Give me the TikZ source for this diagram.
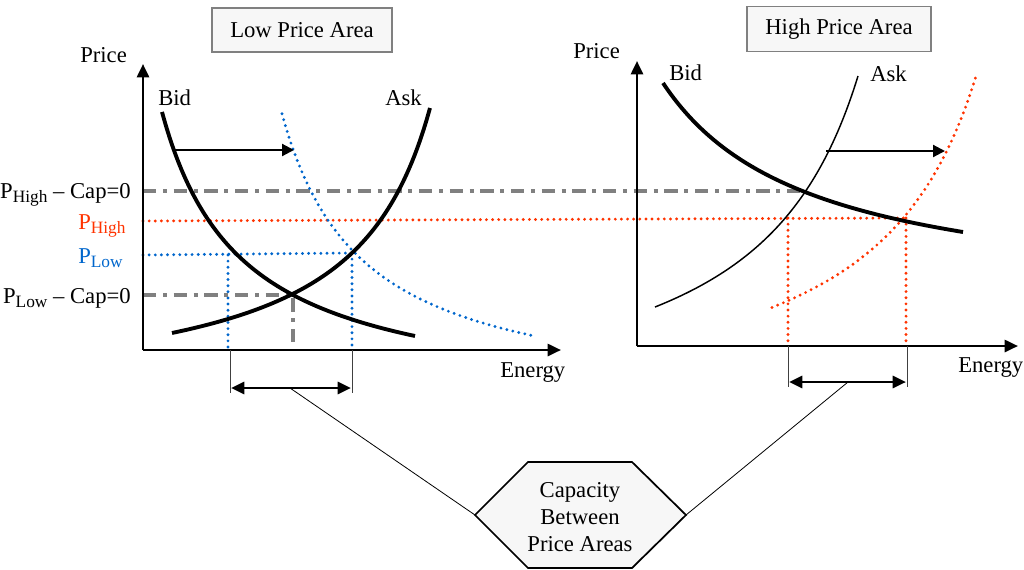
\documentclass[tikz,border=0pt]{standalone}
\usepackage{fontspec}
\setmainfont{Liberation Serif}
\usetikzlibrary{arrows.meta}
\definecolor{pred}{HTML}{FF3300}
\definecolor{pblue}{HTML}{0066CC}
\definecolor{dgray}{HTML}{808080}
\definecolor{boxfill}{HTML}{F7F7F7}
\newcommand{\sbs}[1]{\raisebox{-0.45ex}{\fontsize{13}{13}\selectfont #1}}
\tikzset{
 axisline/.style={line width=2pt,-{Triangle[length=10pt,width=9pt]}},
 curvethick/.style={line width=2.9pt},
 curvethin/.style={line width=1.1pt},
 reddots/.style={pred,line width=2.4pt,line cap=round,dash pattern=on 0pt off 4.6pt},
 bluedots/.style={pblue,line width=2.4pt,line cap=round,dash pattern=on 0pt off 4.6pt},
 dashdot/.style={dgray,line width=2.4pt,dash pattern=on 10pt off 5pt on 3pt off 5pt},
 shiftarrow/.style={line width=1.6pt,-{Triangle[length=9pt,width=9pt]}},
 caparrow/.style={line width=2.2pt,{Triangle[length=10pt,width=9pt]}-{Triangle[length=10pt,width=9pt]}},
 guide/.style={line width=0.7pt,black!75},
 conn/.style={line width=0.6pt},
 titlebox/.style={draw=dgray,line width=1.2pt,fill=boxfill,minimum width=135pt,minimum height=33pt,inner sep=0pt},
 lbl/.style={inner sep=0pt},
}
\begin{document}
\begin{tikzpicture}[x=0.75pt,y=-0.75pt,font=\fontsize{17}{20.25}\selectfont]
\useasboundingbox (0,0) rectangle (1024,569);

% title boxes
\node[titlebox] (low) at (302,30) {Low Price Area};
\node[titlebox,minimum width=138pt,minimum height=34pt] (high) at (839,29) {High Price Area};

% ---------- left chart ----------
\draw[dashdot] (143,191) -- (800,191);
\draw[reddots] (143,221) -- (905,218);
\draw[bluedots] (143,255) -- (352,253);
\draw[bluedots] (228,255) -- (228,350);
\draw[bluedots] (352,253) -- (352,350);
\draw[dashdot] (143,295) -- (293,295) -- (293,350);

% shifted bid (blue dotted)
\draw[bluedots] plot[domain=282:535,samples=80,smooth] (\x,{407-236.62/((\x-201.3)/100)});

% bid and ask
\draw[curvethick] plot[domain=162:415,samples=80,smooth] (\x,{407-236.62/((\x-81.8)/100)});
\draw[curvethick] plot[domain=172:430,samples=80,smooth] (\x,{403.7-239.81/((511.1-\x)/100)});

% shift arrow
\coordinate (la1) at (175,150);
\coordinate (la2) at (294,150);
\draw[shiftarrow] (la1) -- (la2);

% axes
\coordinate (lo) at (143,350);
\coordinate (lx) at (561,350);
\coordinate (ly) at (143,64);
\draw[axisline] (lo) -- (lx);
\draw[axisline] (lo) -- (ly);

% labels
\node[lbl,anchor=base west] (lprice) at (80,62) {Price};
\node[lbl,anchor=base west] (lbid) at (158,105) {Bid};
\node[lbl,anchor=base west] (lask) at (385,105) {Ask};
\node[lbl,anchor=base west] (lenergy) at (500,377) {Energy};
\node[lbl,anchor=base east] (phc) at (131,198) {P\sbs{High} \textendash{} Cap=0};
\node[lbl,anchor=base west,text=pred] (ph) at (78,229) {P\sbs{High}};
\node[lbl,anchor=base west,text=pblue] (pl) at (78,263) {P\sbs{Low}};
\node[lbl,anchor=base east] (plc) at (131,303) {P\sbs{Low} \textendash{} Cap=0};

% capacity marker left
\draw[guide] (230,350) -- (230,393);
\draw[guide] (352,350) -- (352,393);
\coordinate (lc1) at (231,388);
\coordinate (lc2) at (351,388);
\coordinate (lcm) at (290,388);
\draw[caparrow] (lc1) -- (lc2);

% ---------- right chart ----------
\draw[reddots] (788,218) -- (788,345);
\draw[reddots] (906,218) -- (906,345);
\draw[reddots] plot[domain=772:976,samples=80,smooth] (\x,{431.5-388.91/((1085.4-\x)/100)});

\draw[curvethick] plot[domain=663:963,samples=80,smooth] (\x,{305.3-328.12/((\x-515.4)/100)});
\draw[curvethin] plot[domain=655:858,samples=80,smooth] (\x,{431.5-388.91/((967.4-\x)/100)});

\coordinate (ra1) at (826,151);
\coordinate (ra2) at (945,151);
\draw[shiftarrow] (ra1) -- (ra2);

\coordinate (ro) at (637,346);
\coordinate (rx) at (1018,346);
\coordinate (ry) at (637,61);
\draw[axisline] (ro) -- (rx);
\draw[axisline] (ro) -- (ry);

\node[lbl,anchor=base west] (rprice) at (573,58) {Price};
\node[lbl,anchor=base west] (rbid) at (669,80) {Bid};
\node[lbl,anchor=base west] (rask) at (870,81) {Ask};
\node[lbl,anchor=base west] (renergy) at (958,372) {Energy};

\draw[guide] (788,346) -- (788,387);
\draw[guide] (907,346) -- (907,387);
\coordinate (rc1) at (789,382);
\coordinate (rc2) at (906,382);
\coordinate (rcm) at (848,382);
\draw[caparrow] (rc1) -- (rc2);

% ---------- hexagon ----------
\coordinate (hL) at (475,515);
\coordinate (hTL) at (528,462);
\coordinate (hTR) at (632,462);
\coordinate (hR) at (686,515);
\coordinate (hBR) at (632,568);
\coordinate (hBL) at (528,568);
\draw[line width=1.3pt,fill=boxfill] (hL) -- (hTL) -- (hTR) -- (hR) -- (hBR) -- (hBL) -- cycle;
\node[align=center,inner sep=0pt] (cap) at (580,517) {Capacity\\Between\\Price Areas};

\draw[conn] (lcm) -- (hL);
\draw[conn] (hR) -- (rcm);
\end{tikzpicture}
\end{document}
